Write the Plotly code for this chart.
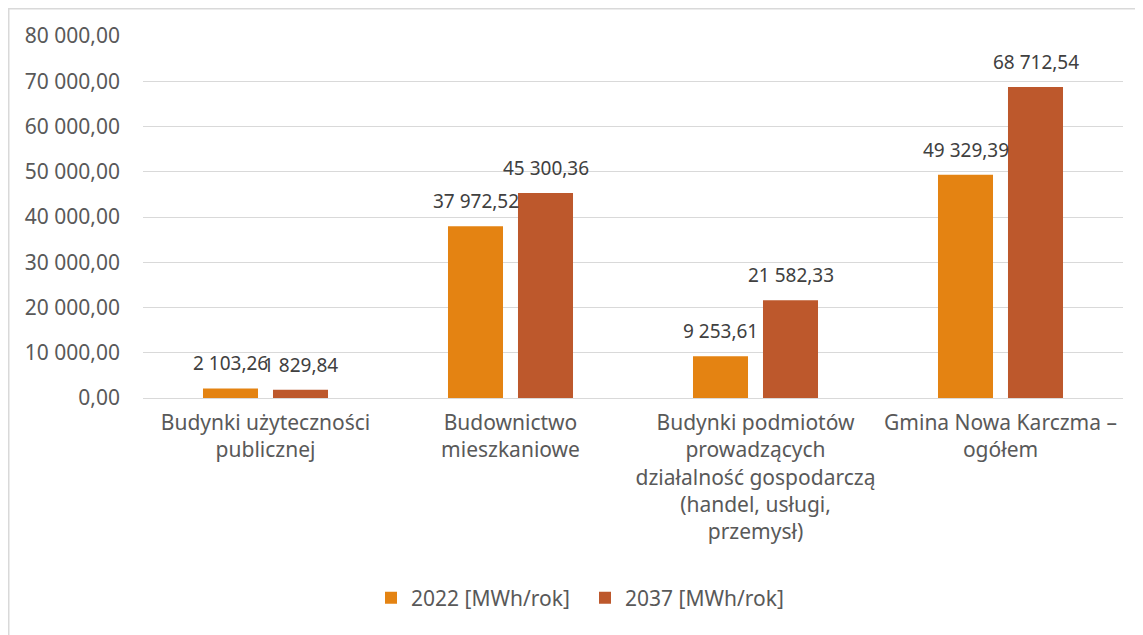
import plotly.graph_objects as go

categories = [
    "Budynki użyteczności<br>publicznej",
    "Budownictwo<br>mieszkaniowe",
    "Budynki podmiotów<br>prowadzących<br>działalność gospodarczą<br>(handel, usługi,<br>przemysł)",
    "Gmina Nowa Karczma –<br>ogółem",
]
series_names = ["2022 [MWh/rok]", "2037 [MWh/rok]"]
values_2022 = [2103.26, 37972.52, 9253.61, 49329.39]
values_2037 = [1829.84, 45300.36, 21582.33, 68712.54]
tick_vals = [0, 10000, 20000, 30000, 40000, 50000, 60000, 70000, 80000]

colors = ["#E48312", "#BD582C"]
FONT = "Noto Sans"
FS = 21
LFS = 19
# page body has an 8px margin, so figure is 8px smaller than the window
W, H = 1135, 627
ml, mr, mt, mb = 135, 20, 28, 237
pw = W - ml - mr
ph = H - mt - mb

BAR_OFFSET = 35  # px from category centre to each bar centre

fig = go.Figure()
for name, vals, col in zip(series_names, [values_2022, values_2037], colors):
    fig.add_trace(go.Bar(
        x=categories, y=vals, name=name,
        marker=dict(color=col, line=dict(width=0)),
        hoverinfo="x+y",
    ))

def fmt(v):
    s = f"{v:,.2f}"
    return s.replace(",", " ").replace(".", ",")

annotations = []
for k, vals in enumerate([values_2022, values_2037]):
    sign = -1 if k == 0 else 1
    for c, v in zip(categories, vals):
        annotations.append(dict(
            x=c, y=v, xref="x", yref="y", text=fmt(v), showarrow=False,
            xanchor="center", yanchor="bottom", xshift=sign * BAR_OFFSET, yshift=10,
            font=dict(family=FONT, size=LFS, color="#404040"),
        ))

fig.update_layout(
    width=W, height=H,
    margin=dict(l=ml, r=mr, t=mt, b=mb),
    paper_bgcolor="white", plot_bgcolor="white",
    separators=", ",
    barmode="group", bargap=0.4286, bargroupgap=0.214,
    font=dict(family=FONT, size=FS, color="#595959"),
    showlegend=True,
    legend=dict(orientation="h", x=(363 - ml) / pw, xanchor="left",
                y=(H - mb - 590) / ph, yanchor="middle",
                font=dict(family=FONT, size=FS, color="#595959"),
                entrywidth=169, entrywidthmode="pixels",
                traceorder="normal"),
    xaxis=dict(showgrid=False, showline=False, ticks="", ticklabelstandoff=10,
               tickfont=dict(size=FS, color="#595959")),
    yaxis=dict(range=[0, 80000], tickvals=tick_vals, tickformat=",.2f",
               gridcolor="#D9D9D9", gridwidth=1, zeroline=True, zerolinecolor="#D9D9D9",
               zerolinewidth=1, showline=False, ticks="", ticklabelstandoff=22,
               tickfont=dict(size=FS, color="#595959")),
    annotations=annotations,
    shapes=[dict(type="rect", xref="paper", yref="paper",
                 x0=(0.75 - ml) / pw, x1=(W + 20 - ml) / pw,
                 y0=(H - mb - (H + 20)) / ph, y1=(H - mb - 0.75) / ph,
                 line=dict(color="#D9D9D9", width=1.5), fillcolor="rgba(0,0,0,0)", layer="below")],
)

fig.write_html("out.html")
